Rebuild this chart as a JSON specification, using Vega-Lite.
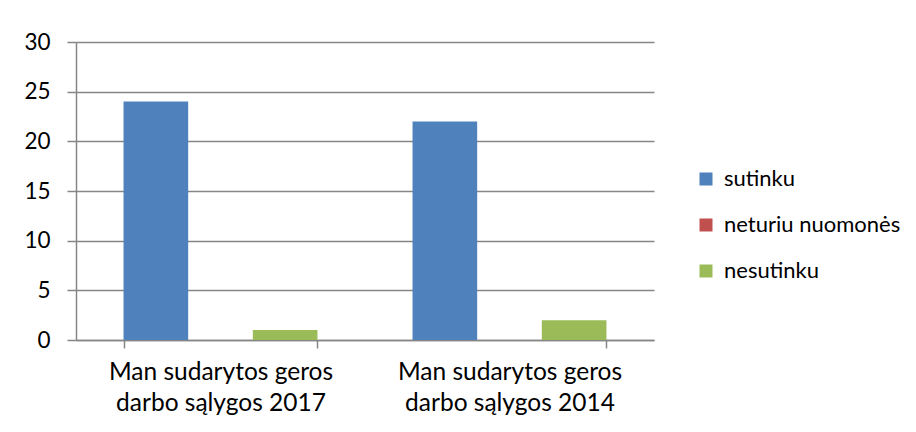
{
  "$schema": "https://vega.github.io/schema/vega-lite/v6.json",
  "width": 578,
  "height": 298,
  "autosize": {"type": "none"},
  "padding": {"left": 76, "top": 42, "right": 262, "bottom": 92},
  "background": "white",
  "data": {
    "values": [
      {"kategorija": "Man sudarytos geros darbo sąlygos 2017", "atsakymas": "sutinku", "reiksme": 24},
      {"kategorija": "Man sudarytos geros darbo sąlygos 2017", "atsakymas": "neturiu nuomonės", "reiksme": 0},
      {"kategorija": "Man sudarytos geros darbo sąlygos 2017", "atsakymas": "nesutinku", "reiksme": 1},
      {"kategorija": "Man sudarytos geros darbo sąlygos 2014", "atsakymas": "sutinku", "reiksme": 22},
      {"kategorija": "Man sudarytos geros darbo sąlygos 2014", "atsakymas": "neturiu nuomonės", "reiksme": 0},
      {"kategorija": "Man sudarytos geros darbo sąlygos 2014", "atsakymas": "nesutinku", "reiksme": 2}
    ]
  },
  "mark": {"type": "bar"},
  "encoding": {
    "x": {
      "field": "kategorija",
      "type": "nominal",
      "sort": null,
      "title": null,
      "scale": {"paddingInner": 0.329, "paddingOuter": 0.1645},
      "axis": {
        "labelAngle": 0,
        "labelExpr": "datum.value ? [substring(datum.value, 0, 19), substring(datum.value, 20)] : ''",
        "labelFont": "Lato",
        "labelFontSize": 24.5,
        "labelColor": "#000000",
        "labelLineHeight": 31,
        "labelPadding": 12,
        "labelLimit": 400,
        "tickBand": "extent",
        "tickSize": 8,
        "tickColor": "#868686",
        "domainColor": "#868686",
        "domainWidth": 1.5,
        "tickWidth": 1.5
      }
    },
    "xOffset": {
      "field": "atsakymas",
      "type": "nominal",
      "sort": ["sutinku", "neturiu nuomonės", "nesutinku"],
      "scale": {"paddingInner": 0, "paddingOuter": 0}
    },
    "y": {
      "field": "reiksme",
      "type": "quantitative",
      "title": null,
      "scale": {"domain": [0, 30], "nice": false},
      "axis": {
        "values": [0, 5, 10, 15, 20, 25, 30],
        "labelFont": "Lato",
        "labelFontSize": 22.5,
        "labelColor": "#000000",
        "labelPadding": 17,
        "tickSize": 9,
        "tickColor": "#868686",
        "tickWidth": 1.5,
        "domainColor": "#868686",
        "domainWidth": 1.5,
        "grid": true,
        "gridColor": "#868686",
        "gridWidth": 1.5
      }
    },
    "color": {
      "field": "atsakymas",
      "type": "nominal",
      "sort": ["sutinku", "neturiu nuomonės", "nesutinku"],
      "scale": {
        "domain": ["sutinku", "neturiu nuomonės", "nesutinku"],
        "range": ["#4F81BD", "#C0504D", "#9BBB59"]
      },
      "legend": {
        "title": null,
        "orient": "none",
        "legendX": 619,
        "legendY": 126,
        "symbolType": "square",
        "symbolSize": 169,
        "symbolStrokeWidth": 0,
        "labelFont": "Lato",
        "labelFontSize": 22,
        "labelColor": "#000000",
        "labelOffset": 7,
        "rowPadding": 24,
        "labelLimit": 300
      }
    }
  },
  "config": {"view": {"stroke": null}}
}
